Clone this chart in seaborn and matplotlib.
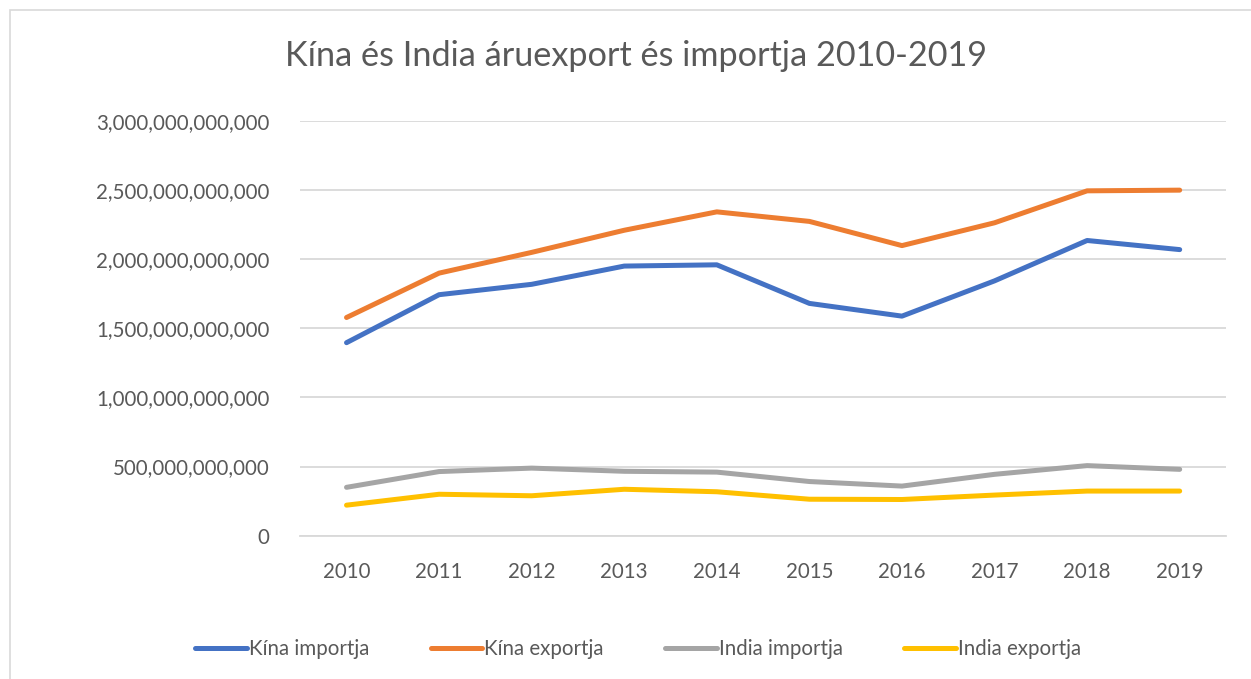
"""
Kína és India áruexport és importja 2010-2019 - line chart recreation.
"""
import pandas as pd
import matplotlib.pyplot as plt
import matplotlib.ticker as mticker
from matplotlib.patches import Rectangle
import seaborn as sns

# Data (USD)
years = ['2010', '2011', '2012', '2013', '2014', '2015', '2016', '2017', '2018', '2019']
kina_import = [1.396e12, 1.743e12, 1.818e12, 1.950e12, 1.959e12, 1.680e12, 1.588e12, 1.843e12, 2.135e12, 2.069e12]
kina_export = [1.578e12, 1.899e12, 2.049e12, 2.209e12, 2.342e12, 2.273e12, 2.098e12, 2.263e12, 2.494e12, 2.499e12]
india_import = [0.350e12, 0.464e12, 0.489e12, 0.466e12, 0.460e12, 0.392e12, 0.359e12, 0.444e12, 0.507e12, 0.480e12]
india_export = [0.221e12, 0.300e12, 0.289e12, 0.336e12, 0.318e12, 0.264e12, 0.262e12, 0.294e12, 0.323e12, 0.323e12]

series_names = ['Kína importja', 'Kína exportja', 'India importja', 'India exportja']
palette = ['#4472C4', '#ED7D31', '#A5A5A5', '#FFC000']

df = pd.DataFrame({
    'year': years * 4,
    'value': kina_import + kina_export + india_import + india_export,
    'series': [s for s in series_names for _ in years],
})

sns.set_theme(style='white')
plt.rcParams['font.family'] = ['Lato', 'DejaVu Sans']
text_color = '#595959'

fig = plt.figure(figsize=(12.51, 6.79), dpi=100)
ax = fig.add_axes([0.240, 0.211, 0.740, 0.611])

sns.lineplot(data=df, x='year', y='value', hue='series', hue_order=series_names,
             palette=palette, linewidth=3.6, sort=False, ax=ax, legend=True)

ax.set_xlim(-0.5, 9.5)
ax.set_ylim(0, 3e12)
ax.yaxis.set_major_locator(mticker.MultipleLocator(5e11))
ax.yaxis.set_major_formatter(mticker.FuncFormatter(lambda v, p: f'{v:,.0f}'))
ax.grid(axis='y', color='#D9D9D9', linewidth=1.3)
ax.set_axisbelow(True)
for side in ['top', 'right', 'left']:
    ax.spines[side].set_visible(False)
ax.spines['bottom'].set_color('#D9D9D9')
ax.spines['bottom'].set_linewidth(1.3)
ax.tick_params(axis='both', length=0, labelsize=14.8, colors=text_color)
ax.tick_params(axis='y', pad=22)
ax.tick_params(axis='x', pad=19)
ax.set_xlabel('')
ax.set_ylabel('')

fig.text(0.508, 0.918, 'Kína és India áruexport és importja 2010-2019',
         ha='center', va='center', fontsize=24.7, color=text_color)

handles, labels = ax.get_legend_handles_labels()
ax.legend_.remove()
fig.legend(handles, labels, loc='center', bbox_to_anchor=(0.510, 0.044), ncol=4,
           frameon=False, fontsize=14.8, labelcolor=text_color, handlelength=2.5,
           handletextpad=0.1, columnspacing=3.0)

# chart border like the Excel chart area
fig.patches.append(Rectangle((0.008, -0.01), 1.1, 0.995, transform=fig.transFigure,
                             fill=False, edgecolor='#D9D9D9', linewidth=1.2))

fig.savefig('out.png', dpi=100, facecolor='white')
